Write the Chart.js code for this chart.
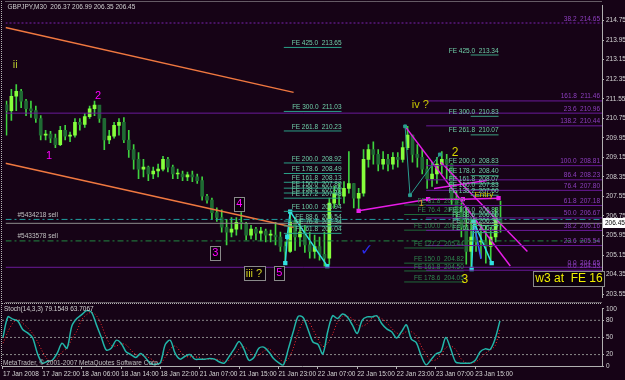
<!DOCTYPE html>
<html>
<head>
<meta charset="utf-8">
<script src="https://cdn.jsdelivr.net/npm/chart.js@4.4.1/dist/chart.umd.min.js"></script>
<style>
html,body{margin:0;padding:0;background:#160316;}
#wrap{position:relative;width:625px;height:380px;overflow:hidden;background:#160316;}
#main{position:absolute;left:0;top:0;}
#osc{position:absolute;left:0;top:303px;}
</style>
</head>
<body>
<div id="wrap">
<canvas id="main" width="625" height="303"></canvas>
<canvas id="osc" width="625" height="77"></canvas>
</div>
<script>
// ---- data (one bar = 1 hour) ----
const timeLabels = ['17 Jan 2008','17 Jan 22:00','18 Jan 06:00','18 Jan 14:00','18 Jan 22:00','21 Jan 07:00',
  '21 Jan 15:00','21 Jan 23:00','22 Jan 07:00','22 Jan 15:00','22 Jan 23:00','23 Jan 07:00','23 Jan 15:00'];
const timeTickBars = [0,8,16,24,32,40,48,56,64,72,80,88,96];
const priceTicks = [203.55,204.35,205.15,205.95,206.75,207.55,208.35,209.15,209.95,210.75,211.55,212.35,213.15,213.95,214.75];
const stochTicks = [0,20,50,80,100];

const opens = [211.30,211.06,211.65,211.85,211.45,211.14,211.06,210.74,210.06,210.10,
209.94,209.67,210.26,210.02,210.06,210.58,210.50,210.82,211.14,211.29,
210.74,209.86,210.02,210.46,210.58,209.86,209.47,209.07,208.67,208.75,
208.47,208.59,208.67,209.07,208.75,208.47,208.47,208.35,208.43,208.35,
208.20,207.56,207.40,206.89,206.69,206.29,206.09,206.21,206.49,206.45,
205.97,206.21,206.05,206.13,205.97,205.97,205.89,205.50,205.30,206.49,
205.89,206.09,205.57,205.30,205.50,205.18,205.02,207.28,207.68,207.56,
207.88,208.08,207.48,207.68,209.07,209.47,209.27,208.87,209.07,208.87,
209.15,209.07,209.55,210.06,209.27,209.15,208.67,208.28,208.47,208.87,
209.07,208.87,207.48,206.89,206.29,205.30,205.89,205.69,205.69,205.50,
205.89,206.69];
const highs = [211.45,211.93,212.13,211.93,211.53,211.45,211.25,210.86,210.26,210.22,
210.10,210.42,210.46,210.18,210.74,210.74,210.94,211.25,211.45,211.22,
210.74,210.26,210.58,210.74,210.78,210.26,209.67,209.35,209.07,208.79,
208.75,208.87,209.19,209.15,208.83,208.67,208.59,208.55,208.59,208.47,
208.35,207.64,207.48,207.08,207.00,206.61,206.69,206.69,206.89,206.49,
206.37,206.29,206.29,206.21,206.17,206.49,206.09,205.69,206.93,206.69,
206.61,206.37,206.09,205.97,205.89,206.09,207.48,207.96,208.08,208.16,
209.39,208.08,207.88,209.47,209.67,209.79,209.47,209.39,209.27,209.35,
209.35,209.79,210.42,210.06,209.67,209.47,209.07,208.95,209.15,209.39,
209.27,208.90,207.80,207.28,207.08,206.69,206.69,206.41,206.37,206.29,
207.08,207.36];
const lows = [210.06,210.66,211.06,211.18,210.86,210.78,210.58,209.86,209.86,209.75,
209.55,209.63,209.86,209.79,209.98,210.26,210.38,210.74,210.86,210.58,
209.47,209.71,209.94,210.06,209.75,209.15,208.67,208.28,208.35,208.20,
208.28,208.35,208.59,208.55,208.28,208.28,208.20,208.20,208.16,208.08,
207.40,207.28,206.61,206.53,206.09,205.57,205.89,205.97,206.21,205.77,
205.81,205.77,205.73,205.69,205.69,205.57,205.30,204.82,205.26,205.34,
205.50,205.26,205.02,205.02,204.94,204.70,204.78,207.08,207.20,207.28,
207.68,207.08,206.96,207.56,208.75,208.87,208.59,208.67,208.59,208.67,
208.75,208.95,209.47,208.95,208.75,208.47,207.88,207.96,208.08,208.47,
208.28,207.20,206.61,205.89,204.78,204.58,205.30,205.02,204.82,204.82,
205.69,206.09];
const closes = [211.06,211.65,211.85,211.45,211.14,211.06,210.74,210.06,210.10,209.94,
209.67,210.26,210.02,210.06,210.58,210.50,210.82,211.14,211.29,210.74,
209.86,210.02,210.46,210.58,209.86,209.47,209.07,208.67,208.75,208.47,
208.59,208.67,209.07,208.75,208.47,208.47,208.35,208.43,208.35,208.20,
207.56,207.40,206.89,206.69,206.29,206.09,206.21,206.49,206.45,205.97,
206.21,206.05,206.13,205.97,205.97,205.89,205.50,205.30,206.49,205.89,
206.09,205.57,205.30,205.50,205.18,205.02,207.28,207.68,207.56,207.88,
208.08,207.48,207.68,209.07,209.47,209.27,208.87,209.07,208.87,209.15,
209.07,209.55,210.06,209.27,209.15,208.67,208.28,208.47,208.87,209.07,
208.87,207.48,206.89,206.29,205.30,205.89,205.69,205.69,205.50,205.89,
206.69,206.45];

const stochMain = [50,86,82,79,64,58,50,22,5,8,
10,22,40,31,70,83,90,97,94,72,
50,28,31,45,40,25,20,15,22,14,
4,3,6,38,45,22,12,17,20,12,
12,12,13,12,7,5,17,30,43,29,
10,15,31,33,25,13,6,2,30,60,
87,85,64,42,38,21,60,88,83,91,
86,72,57,80,86,86,88,74,65,60,
49,60,72,47,41,18,2,11,21,25,
50,30,7,5,5,5,10,25,30,29,
47,79];
const stochSignal = [40,60,75,82,75,67,57,43,26,12,
8,13,24,31,47,61,81,90,94,88,
72,50,36,35,39,37,28,20,19,17,
13,7,4,16,30,35,26,17,16,16,
15,12,12,12,11,8,10,17,30,34,
27,18,19,26,30,24,15,7,13,31,
59,77,79,64,48,34,40,56,77,87,
87,83,72,70,74,84,87,83,76,66,
58,56,60,60,53,35,20,10,11,19,
32,35,29,14,6,5,7,13,22,28,
35,64];
const stochLevels = [20,50,80];

// order lines and bid
const orderLevels = [206.61, 205.73];
const orderNames = ['#5434218 sell', '#5433578 sell'];
const bid = 206.45;

// fibonacci retracements
const fibWideLevels = [214.65, 210.96, 204.65];
const fibWideNames = ['38.2', '23.6', '0.0'];
const fibLevels = [211.46, 210.44, 208.81, 208.23, 207.80, 207.18, 206.67, 206.16, 205.54, 204.53];
const fibNames = ['161.8', '138.2', '100.0', '86.4', '76.4', '61.8', '50.0', '38.2', '23.6', '0.0'];

// fibonacci expansions
const fe1Levels = [213.65, 211.03, 210.23, 208.92, 208.49, 208.13, 207.89, 207.69, 207.48, 206.94, 206.54, 206.34, 206.04];
const fe1Names = ['425.0','300.0','261.8','200.0','178.6','161.8','150.0','138.2','127.2','100.0','88.6','76.4','61.8'];
const fe2Levels = [213.34, 210.83, 210.07, 208.83, 208.40, 208.07, 207.83, 207.60, 206.83, 206.60, 206.36, 206.07];
const fe2Names = ['425.0','300.0','261.8','200.0','178.6','161.8','150.0','138.2','100.0','88.6','76.4','61.8'];
const fe3Levels = [207.20, 206.81, 206.17, 205.44, 204.82, 204.50, 204.05];
const fe3Names = ['61.8','76.4','100.0','127.2','150.0','161.8','178.6'];

// drawn objects (bar index, price)
const orangeUpper = [{x:-0.2, y:214.47}, {x:58.7, y:211.81}];
const orangeLower = [{x:-0.2, y:208.91}, {x:58.7, y:206.29}];
const cyanLeft = [{x:57, y:204.82}, {x:57.4, y:205.90}, {x:58, y:206.93}, {x:65.6, y:204.70}];
const cyanRight = [{x:95.1, y:204.58}, {x:95.5, y:206.53}, {x:99.2, y:204.82}];
const blueLeg = [{x:95.5, y:206.53}, {x:97, y:205.00}];
const tealZig = [{x:81.5, y:210.42}, {x:82.5, y:207.60}, {x:88.6, y:209.27}];
const magenta1 = [{x:81.5, y:210.42}, {x:103.0, y:204.70}];
const magenta2 = [{x:88.8, y:208.95}, {x:106.5, y:205.30}];
const magenta3 = [{x:72.0, y:206.96}, {x:86.2, y:207.44}, {x:93.3, y:207.44}, {x:100.6, y:207.48}];
const magenta4 = [{x:87.4, y:207.88}, {x:98.2, y:208.20}];

// ---- layout / look ----
const X_MIN = -0.2, X_MAX = 121.75;
const Y_MIN = 203.43, Y_MAX = 215.35;
const FONT = '"Liberation Sans", Arial, sans-serif';
const SMALL = 6.5;
const AXIS = '#d4d4d4';

const waveNotes = [
  {t:'ii', bx:1.8, py:212.92, c:'#b4c42c', s:11},
  {t:'2', bx:18.7, py:211.65, c:'#ff00ff', s:11},
  {t:'1', bx:8.7, py:209.19, c:'#ff00ff', s:11},
  {t:'3', bx:42.7, py:205.22, c:'#ff00ff', s:11, box:true},
  {t:'4', bx:47.6, py:207.24, c:'#ff00ff', s:11, box:true},
  {t:'iii ?', bx:50.6, py:204.38, c:'#d0d020', s:11, box:true},
  {t:'5', bx:55.8, py:204.40, c:'#ff00ff', s:11, box:true},
  {t:'iv ?', bx:84.6, py:211.29, c:'#c8c800', s:11},
  {t:'2', bx:91.7, py:209.35, c:'#d8d800', s:12},
  {t:'1', bx:84.8, py:207.28, c:'#e0a030', s:9},
  {t:'3', bx:93.7, py:204.14, c:'#e0e000', s:12},
  {t:'Entry', bx:97.6, py:207.62, c:'#d8c800', s:8},
  {t:'w3 at  FE 16', bx:115.0, py:204.19, c:'#f0f000', s:12, box:true},
  {t:'\u2713', bx:73.6, py:205.34, c:'#2a2ae8', s:16}
];

const hline = p => [{x:X_MIN, y:p}, {x:X_MAX, y:p}];
function segs(levels, x0, x1) {
  const pts = [];
  levels.forEach(p => { pts.push({x:x0, y:p}, {x:x1, y:p}, {x:x1, y:null}); });
  return pts;
}
function line(data, color, extra) {
  return Object.assign({type:'line', data, borderColor:color, borderWidth:1, pointRadius:0,
    fill:false, tension:0, order:1, spanGaps:false}, extra || {});
}
const sq = c => ({pointRadius:2, pointStyle:'rect', pointBackgroundColor:c, pointBorderColor:c});

function txt(ctx, t, x, y, color, size, align, base) {
  ctx.font = size + 'px ' + FONT;
  ctx.fillStyle = color;
  ctx.textAlign = align || 'left';
  ctx.textBaseline = base || 'middle';
  ctx.fillText(t, x, y);
}

const bull = closes.map((c, i) => c >= opens[i]);

const mainNotes = {
  id: 'mainNotes',
  afterDatasetsDraw(chart) {
    const {ctx, chartArea: a, scales: {x, y}} = chart;
    ctx.save();
    // frame
    ctx.strokeStyle = '#b4b4b4'; ctx.lineWidth = 1; ctx.setLineDash([1, 1]);
    ctx.beginPath();
    ctx.moveTo(a.left, 1.5); ctx.lineTo(a.right, 1.5);
    ctx.moveTo(1.5, 1); ctx.lineTo(1.5, 303);
    ctx.moveTo(a.left, 302.5); ctx.lineTo(a.right, 302.5);
    ctx.stroke();
    ctx.setLineDash([]);
    // fibonacci labels
    fibWideLevels.forEach((p, i) => txt(ctx, fibWideNames[i] + '  ' + p.toFixed(2), a.right - 2, y.getPixelForValue(p) - 1, '#8e3fc0', SMALL, 'right', 'bottom'));
    fibLevels.forEach((p, i) => txt(ctx, fibNames[i] + '  ' + p.toFixed(2), a.right - 2, y.getPixelForValue(p) - 1, '#8e3fc0', SMALL, 'right', 'bottom'));
    // expansion labels
    fe1Levels.forEach((p, i) => txt(ctx, 'FE ' + fe1Names[i] + '  ' + p.toFixed(2), x.getPixelForValue(68.5), y.getPixelForValue(p) - 1, '#6fcfa8', SMALL, 'right', 'bottom'));
    fe2Levels.forEach((p, i) => txt(ctx, 'FE ' + fe2Names[i] + '  ' + p.toFixed(2), x.getPixelForValue(100.6), y.getPixelForValue(p) - 1, '#6fcfa8', SMALL, 'right', 'bottom'));
    fe3Levels.forEach((p, i) => txt(ctx, 'FE ' + fe3Names[i] + '  ' + p.toFixed(2), x.getPixelForValue(93.5), y.getPixelForValue(p) - 1, '#2f8a50', SMALL, 'right', 'bottom'));
    // order labels
    orderLevels.forEach((p, i) => txt(ctx, orderNames[i], a.left + 12, y.getPixelForValue(p) - 1, '#c0c0c0', SMALL, 'left', 'bottom'));
    // wave labels
    waveNotes.forEach(n => {
      const px = x.getPixelForValue(n.bx), py = y.getPixelForValue(n.py);
      ctx.font = n.s + 'px ' + FONT;
      if (n.box) {
        const w = ctx.measureText(n.t).width;
        ctx.strokeStyle = '#8a8a8a'; ctx.lineWidth = 1;
        ctx.fillStyle = '#0c000c';
        ctx.fillRect(Math.round(px - w / 2 - 2) + 0.5, Math.round(py - n.s / 2 - 2) + 0.5, Math.round(w + 4), n.s + 3);
        ctx.strokeRect(Math.round(px - w / 2 - 2) + 0.5, Math.round(py - n.s / 2 - 2) + 0.5, Math.round(w + 4), n.s + 3);
      }
      txt(ctx, n.t, px, py, n.c, n.s, 'center', 'middle');
    });
    // chart title
    txt(ctx, 'GBPJPY,M30  206.37 206.99 206.35 206.45', a.left + 2, 7, '#d0d0d0', SMALL, 'left', 'middle');
    // bid label on the axis
    const by = Math.round(y.getPixelForValue(bid));
    ctx.fillStyle = '#ffffff';
    ctx.fillRect(a.right + 1, by - 5, 22, 10);
    txt(ctx, bid.toFixed(2), a.right + 3, by, '#000000', SMALL, 'left', 'middle');
    ctx.restore();
  }
};

const oscNotes = {
  id: 'oscNotes',
  afterDatasetsDraw(chart) {
    const {ctx, chartArea: a} = chart;
    ctx.save();
    ctx.strokeStyle = '#b4b4b4'; ctx.lineWidth = 1; ctx.setLineDash([1, 1]);
    ctx.beginPath();
    ctx.moveTo(a.left, 0.5); ctx.lineTo(a.right, 0.5);
    ctx.moveTo(1.5, 0); ctx.lineTo(1.5, a.bottom);
    ctx.stroke();
    ctx.restore();
    txt(ctx, 'Stoch(14,3,3) 79.1549 63.7067', a.left + 2, 6, '#d0d0d0', SMALL, 'left', 'middle');
    txt(ctx, 'MetaTrader, \u00a9 2001-2007 MetaQuotes Software Corp.', a.left + 1, a.bottom - 3, '#c0c0c0', SMALL, 'left', 'middle');
  }
};

Chart.defaults.font.family = FONT;

const mainDatasets = [
  {type:'bar', data: highs.map((h, i) => ({x:i, y:[lows[i], h]})), backgroundColor:'#3fd23f',
    barThickness:1, grouped:false, order:20},
  {type:'bar', data: closes.map((c, i) => ({x:i, y:[opens[i], c]})),
    backgroundColor: bull.map(b => b ? '#86ff3c' : '#1f6a33'), barThickness:3, minBarLength:1, grouped:false, order:19},
  line(hline(fibWideLevels[0]), '#7b22b0', {borderDash:[2, 2]}),
  line(segs(fibWideLevels.slice(1), X_MIN, X_MAX), '#6a1a9a'),
  line(segs(fibLevels, 85.8, X_MAX), '#6a1a9a'),
  line(segs(fe1Levels, 56.7, 68.5), '#2aa088'),
  line(segs(fe2Levels, 94.9, 100.6), '#3aa080'),
  line(segs(fe3Levels, 81.3, 93.5), '#1f6a3a'),
  line(hline(orderLevels[0]), '#1fa0a0', {borderDash:[6, 3, 2, 3]}),
  line(hline(orderLevels[1]), '#208a40', {borderDash:[6, 3, 2, 3]}),
  line(hline(bid), '#8c8c8c'),
  line(orangeUpper, '#f07840', {borderWidth:1.5}),
  line(orangeLower, '#f07840', {borderWidth:1.5}),
  line(tealZig, '#2a9d8f', sq('#2a9d8f')),
  line(cyanLeft, '#30e0e0', Object.assign({borderWidth:1.5}, sq('#30e0e0'))),
  line(cyanRight, '#30e0e0', Object.assign({borderWidth:1.5}, sq('#30e0e0'))),
  line(blueLeg, '#3a5aff', {borderWidth:1.5}),
  line(magenta1, '#e81ce8', {borderWidth:1.5}),
  line(magenta2, '#e81ce8', {borderWidth:1.5}),
  line(magenta3, '#e81ce8', Object.assign({borderWidth:1.5}, sq('#e81ce8'))),
  line(magenta4, '#e81ce8', {borderWidth:1.5})
];

new Chart(document.getElementById('main'), {
  type: 'bar',
  data: {datasets: mainDatasets},
  options: {
    responsive: false, animation: false, events: [],
    layout: {padding: {left: 2, top: 2, right: 0, bottom: 1}},
    plugins: {legend: {display: false}, tooltip: {enabled: false}},
    scales: {
      x: {type: 'linear', min: X_MIN, max: X_MAX, offset: false, display: false},
      y: {
        position: 'right', min: Y_MIN, max: Y_MAX,
        afterBuildTicks: s => { s.ticks = priceTicks.map(v => ({value: v})); },
        afterFit: s => { s.width = 23; },
        ticks: {color: AXIS, font: {size: SMALL}, padding: 2, callback: v => v.toFixed(2)},
        grid: {drawOnChartArea: false, drawTicks: true, tickLength: 2, color: '#b0b0b0'},
        border: {display: true, color: '#b0b0b0'}
      }
    }
  },
  plugins: [mainNotes]
});

new Chart(document.getElementById('osc'), {
  type: 'line',
  data: {datasets: [
    line(segs(stochLevels, X_MIN, X_MAX), '#8a8a8a', {borderDash:[2, 2]}),
    line(stochSignal.map((v, i) => ({x:i, y:v})), '#ff2a2a', {borderDash:[1, 2], tension:0.3}),
    line(stochMain.map((v, i) => ({x:i, y:v})), '#22b5a8', {borderWidth:1.5, tension:0.3, order:0})
  ]},
  options: {
    responsive: false, animation: false, events: [],
    layout: {padding: {left: 2, top: 3, right: 0, bottom: 0}},
    plugins: {legend: {display: false}, tooltip: {enabled: false}},
    scales: {
      x: {
        type: 'linear', min: X_MIN, max: X_MAX, offset: false,
        afterBuildTicks: s => { s.ticks = timeTickBars.map(v => ({value: v})); },
        afterFit: s => { s.height = 14; },
        ticks: {color: AXIS, font: {size: SMALL}, align: 'start', padding: 1, maxRotation: 0, autoSkip: false,
          callback: v => timeLabels[timeTickBars.indexOf(v)]},
        grid: {drawOnChartArea: false, drawTicks: true, tickLength: 3, color: '#b0b0b0'},
        border: {display: true, color: '#b0b0b0'}
      },
      y: {
        position: 'right', min: 0, max: 100,
        afterBuildTicks: s => { s.ticks = stochTicks.map(v => ({value: v})); },
        afterFit: s => { s.width = 23; },
        ticks: {color: AXIS, font: {size: SMALL}, padding: 2},
        grid: {drawOnChartArea: false, drawTicks: true, tickLength: 2, color: '#b0b0b0'},
        border: {display: true, color: '#b0b0b0'}
      }
    }
  },
  plugins: [oscNotes]
});
</script>
</body>
</html>
